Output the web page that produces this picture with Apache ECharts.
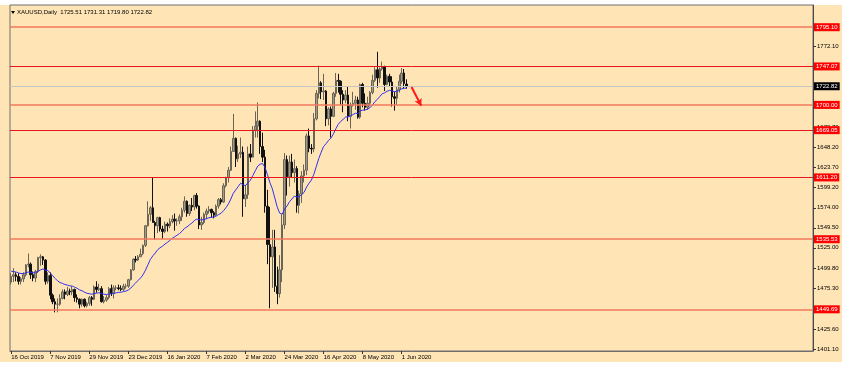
<!DOCTYPE html>
<html>
<head>
<meta charset="utf-8">
<script src="https://cdn.jsdelivr.net/npm/echarts@6/dist/echarts.min.js"></script>
<style>
  html, body { margin: 0; padding: 0; background: #ffffff; }
  #wrap { position: relative; width: 849px; height: 372px; overflow: hidden; }
  #bg { position: absolute; left: 0; top: 5px; width: 842px; height: 357px; background: #FFE4B5; }
  #chart { position: absolute; left: 0; top: 0; width: 849px; height: 372px; }
</style>
</head>
<body>
<div id="wrap"><div id="bg"></div><div id="chart"></div></div>
<script>
const symbolName = 'XAUUSD,Daily';

const dates = [
 '16 Oct 2019','17 Oct 2019','18 Oct 2019','21 Oct 2019','22 Oct 2019','23 Oct 2019','24 Oct 2019','25 Oct 2019','28 Oct 2019','29 Oct 2019','30 Oct 2019','31 Oct 2019',
 '1 Nov 2019','4 Nov 2019','5 Nov 2019','6 Nov 2019','7 Nov 2019','8 Nov 2019','11 Nov 2019','12 Nov 2019','13 Nov 2019','14 Nov 2019','15 Nov 2019','18 Nov 2019','19 Nov 2019','20 Nov 2019','21 Nov 2019','22 Nov 2019','25 Nov 2019','26 Nov 2019','27 Nov 2019','28 Nov 2019','29 Nov 2019',
 '2 Dec 2019','3 Dec 2019','4 Dec 2019','5 Dec 2019','6 Dec 2019','9 Dec 2019','10 Dec 2019','11 Dec 2019','12 Dec 2019','13 Dec 2019','16 Dec 2019','17 Dec 2019','18 Dec 2019','19 Dec 2019','20 Dec 2019','23 Dec 2019','24 Dec 2019','26 Dec 2019','27 Dec 2019','30 Dec 2019','31 Dec 2019',
 '2 Jan 2020','3 Jan 2020','6 Jan 2020','7 Jan 2020','8 Jan 2020','9 Jan 2020','10 Jan 2020','13 Jan 2020','14 Jan 2020','15 Jan 2020','16 Jan 2020','17 Jan 2020','20 Jan 2020','21 Jan 2020','22 Jan 2020','23 Jan 2020','24 Jan 2020','27 Jan 2020','28 Jan 2020','29 Jan 2020','30 Jan 2020','31 Jan 2020',
 '3 Feb 2020','4 Feb 2020','5 Feb 2020','6 Feb 2020','7 Feb 2020','10 Feb 2020','11 Feb 2020','12 Feb 2020','13 Feb 2020','14 Feb 2020','17 Feb 2020','18 Feb 2020','19 Feb 2020','20 Feb 2020','21 Feb 2020','24 Feb 2020','25 Feb 2020','26 Feb 2020','27 Feb 2020','28 Feb 2020',
 '2 Mar 2020','3 Mar 2020','4 Mar 2020','5 Mar 2020','6 Mar 2020','9 Mar 2020','10 Mar 2020','11 Mar 2020','12 Mar 2020','13 Mar 2020','16 Mar 2020','17 Mar 2020','18 Mar 2020','19 Mar 2020','20 Mar 2020','23 Mar 2020','24 Mar 2020','25 Mar 2020','26 Mar 2020','27 Mar 2020','30 Mar 2020','31 Mar 2020',
 '1 Apr 2020','2 Apr 2020','3 Apr 2020','6 Apr 2020','7 Apr 2020','8 Apr 2020','9 Apr 2020','13 Apr 2020','14 Apr 2020','15 Apr 2020','16 Apr 2020','17 Apr 2020','20 Apr 2020','21 Apr 2020','22 Apr 2020','23 Apr 2020','24 Apr 2020','27 Apr 2020','28 Apr 2020','29 Apr 2020','30 Apr 2020',
 '1 May 2020','4 May 2020','5 May 2020','6 May 2020','7 May 2020','8 May 2020','11 May 2020','12 May 2020','13 May 2020','14 May 2020','15 May 2020','18 May 2020','19 May 2020','20 May 2020','21 May 2020','22 May 2020','25 May 2020','26 May 2020','27 May 2020','28 May 2020','29 May 2020',
 '1 Jun 2020','2 Jun 2020','3 Jun 2020'
];

const openP = [1483,1490,1492,1490,1484,1487,1492,1504,1505,1492,1488,1496,1513,1514,1510,1484,1491,1467,1459,1456,
 1456,1463,1471,1468,1472,1471,1474,1464,1462,1456,1462,1454,1457,1464,1462,1477,1474,1475,1459,1461,
 1464,1475,1469,1476,1476,1475,1474,1478,1478,1486,1498,1511,1510,1514,1518,1528,1552,1566,1574,1556,
 1552,1562,1548,1545,1554,1552,1557,1560,1558,1558,1563,1571,1582,1567,1577,1575,1589,1576,1553,1556,
 1566,1570,1572,1568,1565,1576,1584,1581,1601,1611,1620,1643,1659,1634,1640,1642,1585,1590,1640,1636,
 1669,1674,1680,1649,1636,1576,1529,1514,1526,1478,1469,1498,1553,1633,1612,1630,1617,1622,1577,1591,
 1613,1620,1662,1647,1646,1683,1714,1727,1716,1717,1683,1695,1686,1714,1730,1729,1713,1706,1712,1686,
 1700,1702,1706,1685,1725,1702,1697,1702,1715,1730,1743,1733,1744,1747,1725,1735,1728,1710,1708,1719,
 1729,1739,1725.51];

const highP = [1494,1500,1495,1494,1489,1495,1505,1518,1507,1496,1498,1514,1517,1515,1511,1495,1495,1469,1463,1463,
 1468,1474,1474,1477,1475,1478,1475,1468,1463,1463,1463,1459,1466,1466,1479,1484,1481,1478,1466,1467,
 1477,1480,1479,1479,1480,1479,1481,1481,1487,1499,1512,1515,1516,1524,1529,1553,1582,1576,1611,1558,
 1563,1563,1552,1557,1556,1561,1565,1567,1561,1566,1574,1588,1583,1578,1586,1590,1592,1577,1563,1568,
 1573,1576,1573,1570,1578,1586,1586,1604,1612,1624,1649,1689,1660,1650,1660,1649,1602,1649,1652,1674,
 1692,1703,1681,1666,1645,1596,1575,1547,1547,1502,1516,1566,1641,1638,1638,1640,1633,1625,1595,1619,
 1627,1665,1671,1652,1690,1718,1748,1729,1738,1718,1697,1698,1716,1739,1738,1730,1718,1718,1722,1703,
 1716,1711,1710,1726,1727,1714,1710,1717,1737,1746,1765,1746,1753,1748,1737,1738,1735,1716,1723,1737,
 1745,1744,1731.31];

const lowP = [1480,1483,1484,1480,1480,1483,1490,1501,1487,1484,1483,1494,1503,1504,1480,1481,1462,1456,1446,1446,
 1454,1462,1462,1466,1467,1467,1459,1458,1451,1453,1452,1452,1454,1454,1461,1470,1472,1458,1457,1459,
 1462,1466,1463,1473,1473,1472,1472,1475,1476,1485,1497,1507,1509,1514,1516,1526,1551,1558,1556,1535,
 1543,1545,1536,1543,1545,1549,1555,1546,1552,1554,1558,1568,1563,1564,1570,1571,1573,1548,1547,1554,
 1560,1567,1562,1561,1564,1573,1578,1580,1599,1605,1619,1643,1624,1630,1635,1563,1575,1585,1630,1636,
 1660,1660,1640,1630,1568,1505,1451,1476,1471,1456,1464,1483,1548,1589,1600,1611,1605,1568,1567,1580,
 1605,1614,1642,1640,1642,1681,1708,1707,1706,1674,1675,1660,1685,1710,1715,1700,1691,1702,1680,1671,
 1698,1694,1683,1683,1697,1693,1694,1698,1713,1728,1721,1727,1742,1717,1724,1722,1698,1693,1700,1715,
 1726,1720,1719.80];

const closeP = [1490,1492,1490,1484,1487,1492,1504,1505,1492,1488,1496,1513,1514,1510,1484,1491,1467,1459,1456,1456,
 1463,1471,1468,1472,1471,1474,1464,1462,1456,1462,1454,1457,1464,1462,1477,1474,1475,1459,1461,1464,
 1475,1469,1476,1476,1475,1474,1478,1478,1486,1498,1511,1510,1514,1517,1528,1552,1566,1574,1556,1552,
 1562,1548,1545,1554,1552,1557,1560,1558,1558,1563,1571,1582,1567,1577,1575,1589,1576,1553,1556,1566,
 1570,1572,1568,1565,1576,1584,1581,1601,1611,1620,1643,1659,1634,1640,1642,1585,1590,1640,1636,1669,
 1674,1680,1649,1636,1576,1529,1514,1526,1478,1469,1498,1553,1633,1612,1630,1617,1622,1577,1591,1613,
 1620,1662,1647,1646,1683,1714,1727,1716,1717,1683,1695,1686,1714,1730,1729,1713,1706,1712,1686,1700,
 1702,1706,1685,1725,1702,1697,1702,1715,1730,1743,1733,1744,1747,1725,1735,1728,1710,1708,1719,1729,
 1739,1726,1722.82];

const ema20 = [1496.3,1495.9,1495.3,1494.2,1493.5,1493.4,1494.4,1495.4,1495.1,1494.4,1494.6,1496.3,1498.0,1499.1,1497.7,1497.1,1494.2,1490.9,1487.5,1484.5,
 1482.5,1481.4,1480.1,1479.3,1478.5,1478.1,1476.8,1475.4,1473.5,1472.4,1470.7,1469.4,1468.8,1468.2,1469.0,1469.5,1470.0,1469.0,1468.2,1467.8,
 1468.5,1468.6,1469.3,1469.9,1470.4,1470.7,1471.4,1472.0,1473.4,1475.7,1479.1,1482.0,1485.1,1488.1,1491.9,1497.6,1504.1,1510.8,1515.1,1518.6,
 1522.7,1525.1,1527.0,1529.6,1531.7,1534.1,1536.6,1538.6,1540.5,1542.6,1545.3,1548.8,1550.5,1553.1,1555.2,1558.4,1560.1,1559.4,1559.1,1559.7,
 1560.7,1561.8,1562.4,1562.6,1563.9,1565.8,1567.3,1570.5,1574.3,1578.7,1584.8,1591.9,1595.9,1600.1,1604.1,1602.2,1601.1,1604.8,1607.8,1613.6,
 1619.3,1625.1,1627.4,1628.2,1623.3,1614.3,1604.7,1597.2,1585.9,1574.8,1567.4,1566.1,1572.5,1576.2,1581.4,1584.7,1588.3,1587.2,1587.6,1590.0,
 1592.9,1599.4,1604.0,1608.0,1615.1,1624.5,1634.3,1642.1,1649.2,1652.4,1656.5,1659.3,1664.5,1670.7,1676.3,1679.8,1682.3,1685.1,1685.2,1686.6,
 1688.1,1689.8,1689.3,1692.7,1693.6,1693.9,1694.7,1696.6,1699.8,1703.9,1706.7,1710.2,1713.7,1714.8,1716.7,1717.8,1717.1,1716.2,1716.5,1717.7,
 1719.7,1720.3,1720.5];

const levelValues = [1795.10, 1747.07, 1700.00, 1669.05, 1611.20, 1535.53, 1449.69];
const levelKinds  = ['soft', 'hard', 'soft', 'hard', 'hard', 'soft', 'soft'];
const lastPrice = 1722.82;
const yTickValues = [1401.10, 1425.60, 1475.30, 1499.80, 1525.00, 1549.50, 1574.00, 1599.20, 1623.70, 1648.20, 1672.70, 1697.20, 1772.10];
const arrowFrom = [164, 1722];
const arrowTo = [168, 1699];

// ---- layout / style (not data) ----
const futureSlots = 166;
const yMin = 1398.66, yMax = 1822.3;
const FONT = 'Liberation Sans';

const categories = dates.concat(Array.from({length: futureSlots}, (_, k) => 'f' + k));
const candles = dates.map((d, i) => [openP[i], closeP[i], lowP[i], highP[i]]);
const lastIdx = dates.length - 1;
const header = symbolName + '  ' + [openP[lastIdx], highP[lastIdx], lowP[lastIdx], closeP[lastIdx]].map(v => v.toFixed(2)).join(' ');

const levelLines = levelValues.map((v, i) => ({
  yAxis: v,
  lineStyle: levelKinds[i] === 'soft'
    ? { color: '#f27a5e', width: 1.6, type: 'solid' }
    : { color: '#e8161a', width: 1, type: 'solid' },
  label: { backgroundColor: '#ff0000', color: '#ffffff' }
}));
levelLines.push({
  yAxis: lastPrice,
  lineStyle: { color: '#c4c4c4', width: 1, type: 'solid' },
  label: { backgroundColor: '#000000', color: '#ffffff' }
});

const showLabel = (index) => index % 16 === 0 && index < dates.length;

const chart = echarts.init(document.getElementById('chart'), null, { renderer: 'canvas' });
chart.setOption({
  animation: false,
  backgroundColor: 'transparent',
  grid: { left: 10, right: 36, top: 5, bottom: 21, show: true, borderColor: '#6e6e6e', borderWidth: 1, backgroundColor: 'transparent' },
  graphic: [
    { type: 'polygon', shape: { points: [[11, 11], [15, 11], [13, 14]] }, style: { fill: '#000' }, z: 10 },
    { type: 'text', x: 17, y: 12.5, style: { text: header, font: '6px "' + FONT + '"', fill: '#000', verticalAlign: 'middle' }, z: 10 }
  ],
  xAxis: {
    type: 'category',
    data: categories,
    boundaryGap: true,
    axisLine: { show: true, lineStyle: { color: '#6e6e6e' } },
    axisTick: { show: true, interval: showLabel, alignWithLabel: true, length: 3, lineStyle: { color: '#333' } },
    axisLabel: { interval: showLabel, fontSize: 6, fontFamily: FONT, color: '#000', align: 'left', margin: 3 },
    splitLine: { show: false }
  },
  yAxis: {
    type: 'value',
    position: 'right',
    min: yMin,
    max: yMax,
    axisLine: { show: true, lineStyle: { color: '#4a4a4a' } },
    axisTick: { show: true, customValues: yTickValues, length: 3, inside: false, lineStyle: { color: '#333' } },
    axisLabel: { customValues: yTickValues, fontSize: 6, fontFamily: FONT, color: '#000', margin: 4, formatter: v => v.toFixed(2) },
    splitLine: { show: false }
  },
  series: [
    {
      type: 'candlestick',
      data: candles,
      barWidth: 2,
      itemStyle: { color: '#a39c89', color0: '#111111', borderColor: '#6a6556', borderColor0: '#111111', borderWidth: 1 },
      markLine: {
        silent: true,
        symbol: ['none', 'none'],
        animation: false,
        label: {
          show: true, position: 'end', distance: 1, fontSize: 6, fontFamily: FONT,
          padding: [1, 2, 1, 2], formatter: p => Number(p.value).toFixed(2)
        },
        data: levelLines
      },
      z: 2
    },
    {
      type: 'line',
      data: ema20,
      showSymbol: false,
      symbol: 'none',
      lineStyle: { color: '#3030f0', width: 1 },
      z: 3,
      markLine: {
        silent: true,
        symbol: ['none', 'arrow'],
        symbolSize: [6, 7],
        animation: false,
        label: { show: false },
        lineStyle: { color: '#ff1a1a', width: 2, type: 'solid' },
        data: [[{ coord: arrowFrom }, { coord: arrowTo }]]
      }
    }
  ]
});
</script>
</body>
</html>
